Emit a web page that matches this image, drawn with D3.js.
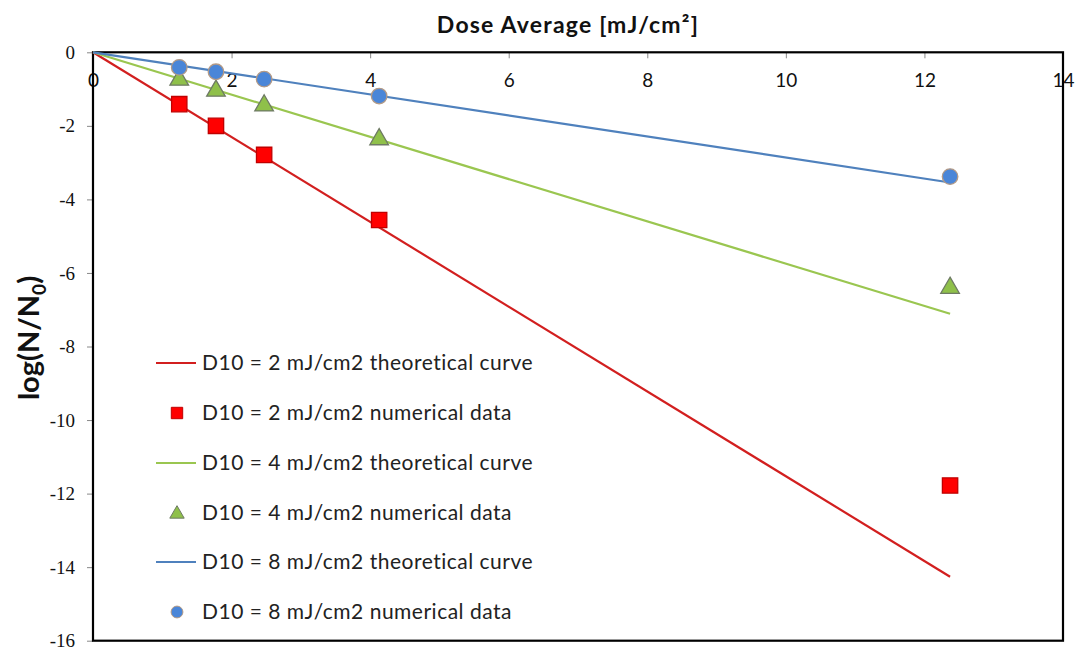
<!DOCTYPE html>
<html>
<head>
<meta charset="utf-8">
<script src="https://cdn.jsdelivr.net/npm/d3@7"></script>
<style>
  html, body { margin: 0; padding: 0; background: #fff; }
  svg { display: block; }
</style>
</head>
<body>
<svg id="chart" width="1076" height="651"></svg>
<script>
// Doses (mJ/cm²) at which the numerical data were evaluated
const doses = [1.245, 1.775, 2.47, 4.13, 12.37];

// Numerical data: log(N/N0) per D10 value
const numD10_2 = [-1.41, -2.0, -2.79, -4.56, -11.78];
const numD10_4 = [-0.72, -1.02, -1.42, -2.34, -6.38];
const numD10_8 = [-0.41, -0.53, -0.73, -1.19, -3.38];

// Theoretical curves (straight lines from the origin to the last dose)
const curveDoses = [0, 12.37];
const theoD10_2 = [0, -14.26];
const theoD10_4 = [0, -7.11];
const theoD10_8 = [0, -3.54];

const xTicks = [0, 2, 4, 6, 8, 10, 12, 14];
const yTicks = [0, -2, -4, -6, -8, -10, -12, -14, -16];

const legendLabels = [
  "D10 = 2 mJ/cm2 theoretical curve",
  "D10 = 2 mJ/cm2 numerical data",
  "D10 = 4 mJ/cm2 theoretical curve",
  "D10 = 4 mJ/cm2 numerical data",
  "D10 = 8 mJ/cm2 theoretical curve",
  "D10 = 8 mJ/cm2 numerical data"
];

const svg = d3.select("#chart");
const plotL = 93, plotR = 1063, plotT = 52.3, plotB = 640.7;

const x = d3.scaleLinear().domain([0, 14]).range([plotL, plotR]);
const y = d3.scaleLinear().domain([0, -16]).range([plotT, plotB]);

const labelFont = "Lato, 'Open Sans', sans-serif";
const plainInt = d => String(d); // hyphen-minus, as in the printed axis

// Title
svg.append("text")
  .attr("x", 568).attr("y", 33)
  .attr("text-anchor", "middle")
  .attr("font-family", labelFont)
  .attr("font-weight", "bold")
  .attr("font-size", 23)
  .attr("letter-spacing", 1.2)
  .attr("fill", "#111")
  .text("Dose Average [mJ/cm²]");

// Y axis title
const yt = svg.append("text")
  .attr("transform", "translate(39,338) rotate(-90)")
  .attr("text-anchor", "middle")
  .attr("font-family", labelFont)
  .attr("font-weight", "bold")
  .attr("font-size", 29)
  .attr("fill", "#111");
yt.append("tspan").text("log(N/N");
yt.append("tspan").attr("font-size", 19).attr("dy", 7).text("0");
yt.append("tspan").attr("dy", -7).text(")");

// X axis along the top (y = 0), ticks pointing into the plot
const xAxis = d3.axisBottom(x).tickValues(xTicks).tickSize(6).tickPadding(15).tickFormat(plainInt);
const gx = svg.append("g").attr("transform", `translate(0,${plotT})`).call(xAxis);
gx.select(".domain").remove();
gx.selectAll(".tick line").attr("stroke", "#888");
gx.selectAll(".tick text")
  .attr("font-family", labelFont)
  .attr("font-size", 19)
  .attr("fill", "#111");

// Y axis on the left
const yAxis = d3.axisLeft(y).tickValues(yTicks).tickSize(6).tickPadding(12).tickFormat(plainInt);
const gy = svg.append("g").attr("transform", `translate(${plotL},0)`).call(yAxis);
gy.select(".domain").remove();
gy.selectAll(".tick line").attr("stroke", "#888");
gy.selectAll(".tick text")
  .attr("font-family", "'Liberation Serif', 'Times New Roman', serif")
  .attr("font-size", 19)
  .attr("fill", "#111");

// Plot frame
svg.append("rect")
  .attr("x", plotL).attr("y", plotT)
  .attr("width", plotR - plotL).attr("height", plotB - plotT)
  .attr("fill", "none")
  .attr("stroke", "#000")
  .attr("stroke-width", 2.2);

const line = d3.line().x(d => x(d[0])).y(d => y(d[1]));

const series = [
  { theo: theoD10_2, num: numD10_2, lineColor: "#d21f1f", fill: "#ff0000", stroke: "#c00000", shape: "square" },
  { theo: theoD10_4, num: numD10_4, lineColor: "#9ac650", fill: "#8fc04a", stroke: "#6e7a64", shape: "triangle" },
  { theo: theoD10_8, num: numD10_8, lineColor: "#4f81bd", fill: "#4a86d8", stroke: "#b39a86", shape: "circle" }
];

const symbolType = { square: d3.symbolSquare, triangle: d3.symbolTriangle, circle: d3.symbolCircle };

// Theoretical curves
series.forEach(s => {
  svg.append("path")
    .datum(curveDoses.map((d, i) => [d, s.theo[i]]))
    .attr("d", line)
    .attr("fill", "none")
    .attr("stroke", s.lineColor)
    .attr("stroke-width", 2.2);
});

// Markers for the numerical data
const markerSize = { square: 235, triangle: 150, circle: 190 };
series.forEach(s => {
  const sym = d3.symbol().type(symbolType[s.shape]).size(markerSize[s.shape]);
  svg.append("g").selectAll("path")
    .data(doses.map((d, i) => [d, s.num[i]]))
    .join("path")
    .attr("transform", d => `translate(${x(d[0])},${y(d[1]) + (s.shape === "triangle" ? 1 : 0)})`)
    .attr("d", sym)
    .attr("fill", s.fill)
    .attr("stroke", s.stroke)
    .attr("stroke-width", 1.3);
});

// Legend
const legend = svg.append("g");
const rowY = [363, 413, 463, 513, 562, 612];
const legendSize = { square: 130, triangle: 90, circle: 110 };
legendLabels.forEach((lab, i) => {
  const s = series[Math.floor(i / 2)];
  const yy = rowY[i];
  if (i % 2 === 0) {
    legend.append("line")
      .attr("x1", 156).attr("x2", 196).attr("y1", yy).attr("y2", yy)
      .attr("stroke", s.lineColor).attr("stroke-width", 2.2);
  } else {
    legend.append("path")
      .attr("transform", `translate(177,${yy + (s.shape === "triangle" ? 1 : 0)})`)
      .attr("d", d3.symbol().type(symbolType[s.shape]).size(legendSize[s.shape]))
      .attr("fill", s.fill)
      .attr("stroke", s.stroke)
      .attr("stroke-width", 1);
  }
  legend.append("text")
    .attr("x", 202).attr("y", yy)
    .attr("dy", "0.35em")
    .attr("font-family", labelFont)
    .attr("font-size", 21)
    .attr("letter-spacing", 0.5)
    .attr("fill", "#222")
    .text(lab);
});
</script>
</body>
</html>
